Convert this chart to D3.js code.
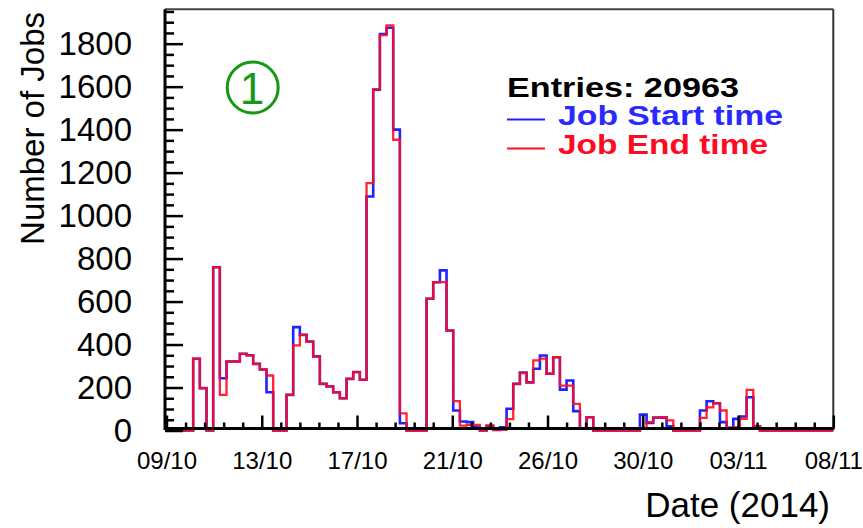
<!DOCTYPE html>
<html>
<head>
<meta charset="utf-8">
<script src="https://d3js.org/d3.v7.min.js"></script>
<style>
    body { margin: 0; background: #fff; }
    svg { display: block; }
    text { font-family: "Liberation Sans", Arial, Helvetica, sans-serif; fill: #000; }
    .tick line { stroke: #000; stroke-width: 2.5px; }
    .axis-y .tick text { font-size: 33px; }
    .axis-x .tick text { font-size: 24px; }
</style>
</head>
<body>
<script>
// 100 bins, 09/10/2014 -> 08/11/2014 (7.2 h per bin)
var nBins = 100;
var startTime = [0, 0, 0, 0, 334, 197, 0, 760, 243, 321,
                 321, 357, 350, 310, 284, 178, 0, 0, 166, 481,
                 445, 414, 345, 217, 205, 178, 150, 240, 272, 236,
                 1089, 1586, 1845, 1874, 1400, 34, 0, 0, 0, 613,
                 690, 745, 465, 93, 42, 39, 15, 0, 22, 3,
                 15, 101, 217, 270, 224, 287, 349, 264, 341, 190,
                 233, 90, 8, 62, 0, 0, 0, 0, 0, 0,
                 0, 74, 35, 60, 60, 20, 0, 0, 0, 0,
                 93, 136, 127, 39, 12, 54, 65, 155, 19, 0,
                 0, 0, 0, 0, 0, 0, 0, 0, 0, 0];
var endTime = [0, 0, 0, 0, 334, 197, 0, 760, 166, 321,
               321, 357, 350, 310, 284, 256, 0, 0, 166, 396,
               445, 414, 345, 217, 205, 178, 150, 240, 272, 236,
               1151, 1586, 1840, 1885, 1353, 80, 0, 0, 0, 613,
               690, 690, 465, 137, 23, 26, 26, 0, 22, 3,
               3, 53, 217, 267, 224, 326, 334, 264, 341, 209,
               209, 124, 8, 62, 0, 0, 0, 0, 0, 0,
               0, 10, 39, 59, 62, 47, 0, 0, 0, 0,
               59, 108, 127, 93, 12, 16, 54, 189, 19, 0,
               0, 0, 0, 0, 0, 0, 0, 0, 0, 0];
var xTickLabels = ["09/10", "13/10", "17/10", "21/10", "26/10", "30/10", "03/11", "08/11"];
var yTicks = [0, 200, 400, 600, 800, 1000, 1200, 1400, 1600, 1800];
var yMax = 1960;
var entries = 20963;

function draw() {
    var width = 863, height = 528;
    var fLeft = 165, fRight = 833.3, fTop = 9.3, fBottom = 428.5;

    var svg = d3.select("body").append("svg")
        .attr("width", width)
        .attr("height", height);

    var x = d3.scaleLinear().domain([0, nBins]).range([166.5, 833.3]);
    var y = d3.scaleLinear().domain([0, yMax]).range([430.5, fTop]);

    // histogram outlines
    var step = d3.line()
        .x(function(d) { return x(d[0]); })
        .y(function(d) { return y(d[1]); })
        .curve(d3.curveStepAfter);

    function outline(vals) {
        var pts = vals.map(function(v, i) { return [i, v]; });
        pts.push([nBins, vals[nBins - 1]]);
        return pts;
    }

    svg.append("path")
        .attr("d", step(outline(startTime)))
        .attr("fill", "none")
        .attr("stroke", "#2222ff")
        .attr("stroke-width", 2.6);

    svg.append("path")
        .attr("d", step(outline(endTime)))
        .attr("fill", "none")
        .attr("stroke", "#ff0a22")
        .attr("stroke-width", 2.3)
        .attr("stroke-opacity", 0.9);

    // frame
    svg.append("line").attr("x1", fLeft).attr("x2", fRight).attr("y1", fTop).attr("y2", fTop)
        .attr("stroke", "#444").attr("stroke-width", 2);
    svg.append("line").attr("x1", fRight).attr("x2", fRight).attr("y1", fTop).attr("y2", fBottom)
        .attr("stroke", "#333").attr("stroke-width", 2);

    // y axis: minor every 50, major every 200
    var yMinor = d3.range(0, yMax, 50).filter(function(v) { return v % 200 !== 0; });
    svg.append("g")
        .attr("class", "axis-y")
        .attr("transform", "translate(" + fLeft + ",0)")
        .call(d3.axisLeft(y).tickValues(yMinor).tickSize(-9).tickFormat(""))
        .call(function(g) { g.select(".domain").remove(); });
    svg.append("g")
        .attr("class", "axis-y")
        .attr("transform", "translate(" + fLeft + ",0)")
        .call(d3.axisLeft(y).tickValues(yTicks).tickSize(-18).tickPadding(33)
            .tickFormat(d3.format("d")))
        .call(function(g) { g.select(".domain").remove(); });

    // x axis: 7 major divisions, 5 minor each
    var nDiv = xTickLabels.length - 1;
    var xMajor = d3.range(0, nDiv + 1).map(function(k) { return k * nBins / nDiv; });
    var xMinor = d3.range(0, nDiv * 5).map(function(k) { return k * nBins / (nDiv * 5); })
        .filter(function(v, k) { return k % 5 !== 0; });
    svg.append("g")
        .attr("class", "axis-x")
        .attr("transform", "translate(0," + fBottom + ")")
        .call(d3.axisBottom(x).tickValues(xMinor).tickSize(-6).tickFormat(""))
        .call(function(g) { g.select(".domain").remove(); });
    svg.append("g")
        .attr("class", "axis-x")
        .attr("transform", "translate(0," + fBottom + ")")
        .call(d3.axisBottom(x).tickValues(xMajor).tickSize(-13).tickPadding(23)
            .tickFormat(function(d, i) { return xTickLabels[i]; }))
        .call(function(g) { g.select(".domain").remove(); });

    svg.append("line").attr("x1", fLeft).attr("x2", fLeft).attr("y1", fTop).attr("y2", fBottom + 1.5)
        .attr("stroke", "#000").attr("stroke-width", 3);
    svg.append("line").attr("x1", fLeft).attr("x2", fRight + 1).attr("y1", fBottom).attr("y2", fBottom)
        .attr("stroke", "#000").attr("stroke-width", 3);

    // axis titles
    svg.append("text")
        .attr("x", 830).attr("y", 517)
        .attr("text-anchor", "end")
        .style("font-size", "35px")
        .text("Date (2014)");
    svg.append("text")
        .attr("transform", "translate(44,12) rotate(-90)")
        .attr("text-anchor", "end")
        .style("font-size", "33px")
        .text("Number of Jobs");

    // legend
    svg.append("text")
        .attr("x", 507).attr("y", 97)
        .attr("textLength", 232).attr("lengthAdjust", "spacingAndGlyphs")
        .style("font-size", "28px").style("font-weight", "bold")
        .text("Entries: " + entries);
    svg.append("line").attr("x1", 507).attr("x2", 545).attr("y1", 119.5).attr("y2", 119.5)
        .attr("stroke", "#2222ff").attr("stroke-width", 2);
    svg.append("text")
        .attr("x", 558).attr("y", 125)
        .attr("textLength", 225).attr("lengthAdjust", "spacingAndGlyphs")
        .style("font-size", "28px").style("font-weight", "bold").style("fill", "#2a2aff")
        .text("Job Start time");
    svg.append("line").attr("x1", 507).attr("x2", 545).attr("y1", 148.5).attr("y2", 148.5)
        .attr("stroke", "#ff0a22").attr("stroke-width", 2);
    svg.append("text")
        .attr("x", 558).attr("y", 154)
        .attr("textLength", 210).attr("lengthAdjust", "spacingAndGlyphs")
        .style("font-size", "28px").style("font-weight", "bold").style("fill", "#ff0a22")
        .text("Job End time");

    // circled marker
    svg.append("circle")
        .attr("cx", 252.7).attr("cy", 87.5).attr("r", 25.5)
        .attr("fill", "none").attr("stroke", "#129a12").attr("stroke-width", 3);
    svg.append("text")
        .attr("x", 252).attr("y", 103.5)
        .attr("text-anchor", "middle")
        .style("font-size", "44px").style("fill", "#129a12")
        .text("1");
}

draw();
</script>
</body>
</html>
